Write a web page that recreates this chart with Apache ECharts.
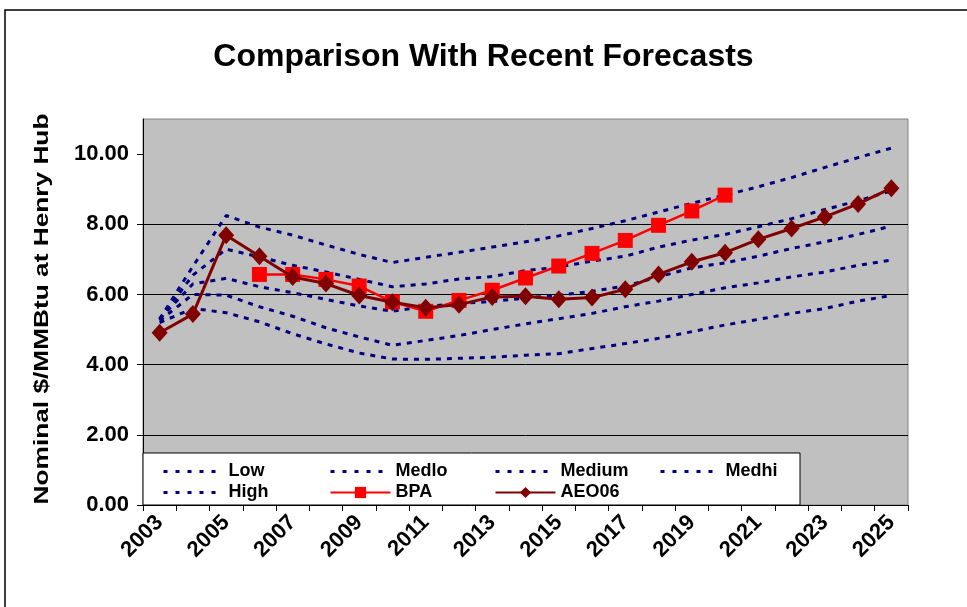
<!DOCTYPE html>
<html>
<head>
<meta charset="utf-8">
<script src="https://cdn.jsdelivr.net/npm/echarts@6/dist/echarts.min.js"></script>
<style>
html,body{margin:0;padding:0;background:#fff;}
#chart{width:967px;height:607px;}
</style>
</head>
<body>
<div id="chart"></div>
<script>
var years = ['2003','2004','2005','2006','2007','2008','2009','2010','2011','2012','2013','2014','2015','2016','2017','2018','2019','2020','2021','2022','2023','2024','2025'];
var low    = [5.20,5.60,5.48,5.22,4.88,4.59,4.33,4.16,4.15,4.18,4.21,4.27,4.31,4.46,4.60,4.75,4.94,5.13,5.29,5.46,5.60,5.81,5.97];
var medlo  = [5.25,6.00,5.98,5.65,5.38,5.05,4.79,4.55,4.69,4.83,5.00,5.16,5.31,5.46,5.65,5.81,6.00,6.19,6.33,6.50,6.64,6.83,6.98];
var medium = [5.30,6.30,6.46,6.22,6.05,5.86,5.67,5.52,5.66,5.74,5.80,5.90,5.98,6.09,6.24,6.50,6.76,6.90,7.09,7.31,7.50,7.71,7.95];
var medhi  = [5.30,6.55,7.29,7.07,6.83,6.64,6.43,6.22,6.30,6.44,6.51,6.68,6.78,6.95,7.09,7.35,7.55,7.71,7.93,8.16,8.42,8.67,8.95];
var high   = [5.30,6.80,8.25,7.92,7.69,7.41,7.14,6.91,7.06,7.20,7.35,7.50,7.67,7.88,8.10,8.35,8.60,8.83,9.07,9.33,9.62,9.90,10.17];
var bpa    = [null,null,null,6.57,6.57,6.43,6.24,5.79,5.52,5.83,6.12,6.47,6.81,7.17,7.54,7.97,8.38,8.83,null,null,null,null,null];
var aeo06  = [4.91,5.44,7.69,7.09,6.50,6.31,5.97,5.78,5.62,5.71,5.93,5.95,5.86,5.91,6.15,6.57,6.93,7.19,7.57,7.88,8.21,8.58,9.03];
var yTicks = [0,2,4,6,8,10];
var yTitle = 'Nominal $/MMBtu at Henry Hub';

var FONT = 'Liberation Sans, Arial, sans-serif';
var chart = echarts.init(document.getElementById('chart'), null, {renderer:'canvas'});

function dashed(name, data){
  return {name:name, type:'line', data:data, symbol:'none', z:2,
    lineStyle:{color:'#000080', width:3, type:[5,6]}, itemStyle:{color:'#000080'}};
}
function legendItem(n){
  if (n === 'BPA' || n === 'AEO06') return {name:n};
  return {name:n, itemStyle:{opacity:0}, lineStyle:{color:'#000080', width:3, type:[4,8], opacity:1}};
}
function legendCol(left, items){
  return {orient:'vertical', left:left, top:457, data:items.map(legendItem), itemWidth:60, itemHeight:14, itemGap:2,
    textStyle:{fontFamily:FONT, fontWeight:'bold', fontSize:18, lineHeight:19, color:'#000'}, z:20, selectedMode:false};
}

chart.setOption({
  animation:false,
  backgroundColor:'#fff',
  title:{text:'Comparison With Recent Forecasts', left:'center', top:36,
    textStyle:{fontFamily:FONT, fontWeight:'bold', fontSize:32, color:'#000'}},
  grid:{left:143, right:59, top:119, bottom:102, show:true, backgroundColor:'#C0C0C0', borderColor:'#808080', borderWidth:1},
  legend:[legendCol(157,['Low','High']), legendCol(324,['Medlo','BPA']), legendCol(489,['Medium','AEO06']), legendCol(654,['Medhi'])],
  xAxis:{type:'category', data:years, boundaryGap:true,
    axisLine:{lineStyle:{color:'#000', width:1}},
    axisTick:{show:true, interval:0, length:6, lineStyle:{color:'#000'}},
    axisLabel:{interval:1, rotate:45, margin:14, fontFamily:FONT, fontWeight:'bold', fontSize:22, color:'#000'}},
  yAxis:{type:'value', min:0, max:11, interval:2,
    axisLine:{show:true, lineStyle:{color:'#000', width:1}},
    axisTick:{show:true, length:6, customValues:yTicks, lineStyle:{color:'#000'}},
    axisLabel:{margin:14, customValues:yTicks, fontFamily:FONT, fontWeight:'bold', fontSize:22, color:'#000',
      formatter:function(v){ return yTicks.indexOf(v) >= 0 ? v.toFixed(2) : ''; }},
    splitLine:{show:true, showMaxLine:false, lineStyle:{color:'#000', width:1}}},
  graphic:[
    {type:'rect', z:10, shape:{x:143, y:453, width:657, height:52}, style:{fill:'#fff', stroke:'#000', lineWidth:1}},
    {type:'rect', z:10, shape:{x:5, y:10, width:1000, height:700}, style:{fill:'none', stroke:'#000', lineWidth:1.5}},
    {type:'text', z:10, x:42, y:309, rotation:Math.PI/2, scaleX:1.25, scaleY:1,
      style:{text:yTitle, font:'bold 21px ' + FONT, fill:'#000', align:'center', verticalAlign:'middle'}}
  ],
  series:[
    dashed('Low', low), dashed('Medlo', medlo), dashed('Medium', medium), dashed('Medhi', medhi), dashed('High', high),
    {name:'BPA', type:'line', data:bpa, symbol:'rect', symbolSize:15, z:3,
      lineStyle:{color:'#FF0000', width:2.5}, itemStyle:{color:'#FF0000'}},
    {name:'AEO06', type:'line', data:aeo06, symbol:'diamond', symbolSize:[16,18], z:4,
      lineStyle:{color:'#800000', width:3}, itemStyle:{color:'#800000'}}
  ]
});
</script>
</body>
</html>
